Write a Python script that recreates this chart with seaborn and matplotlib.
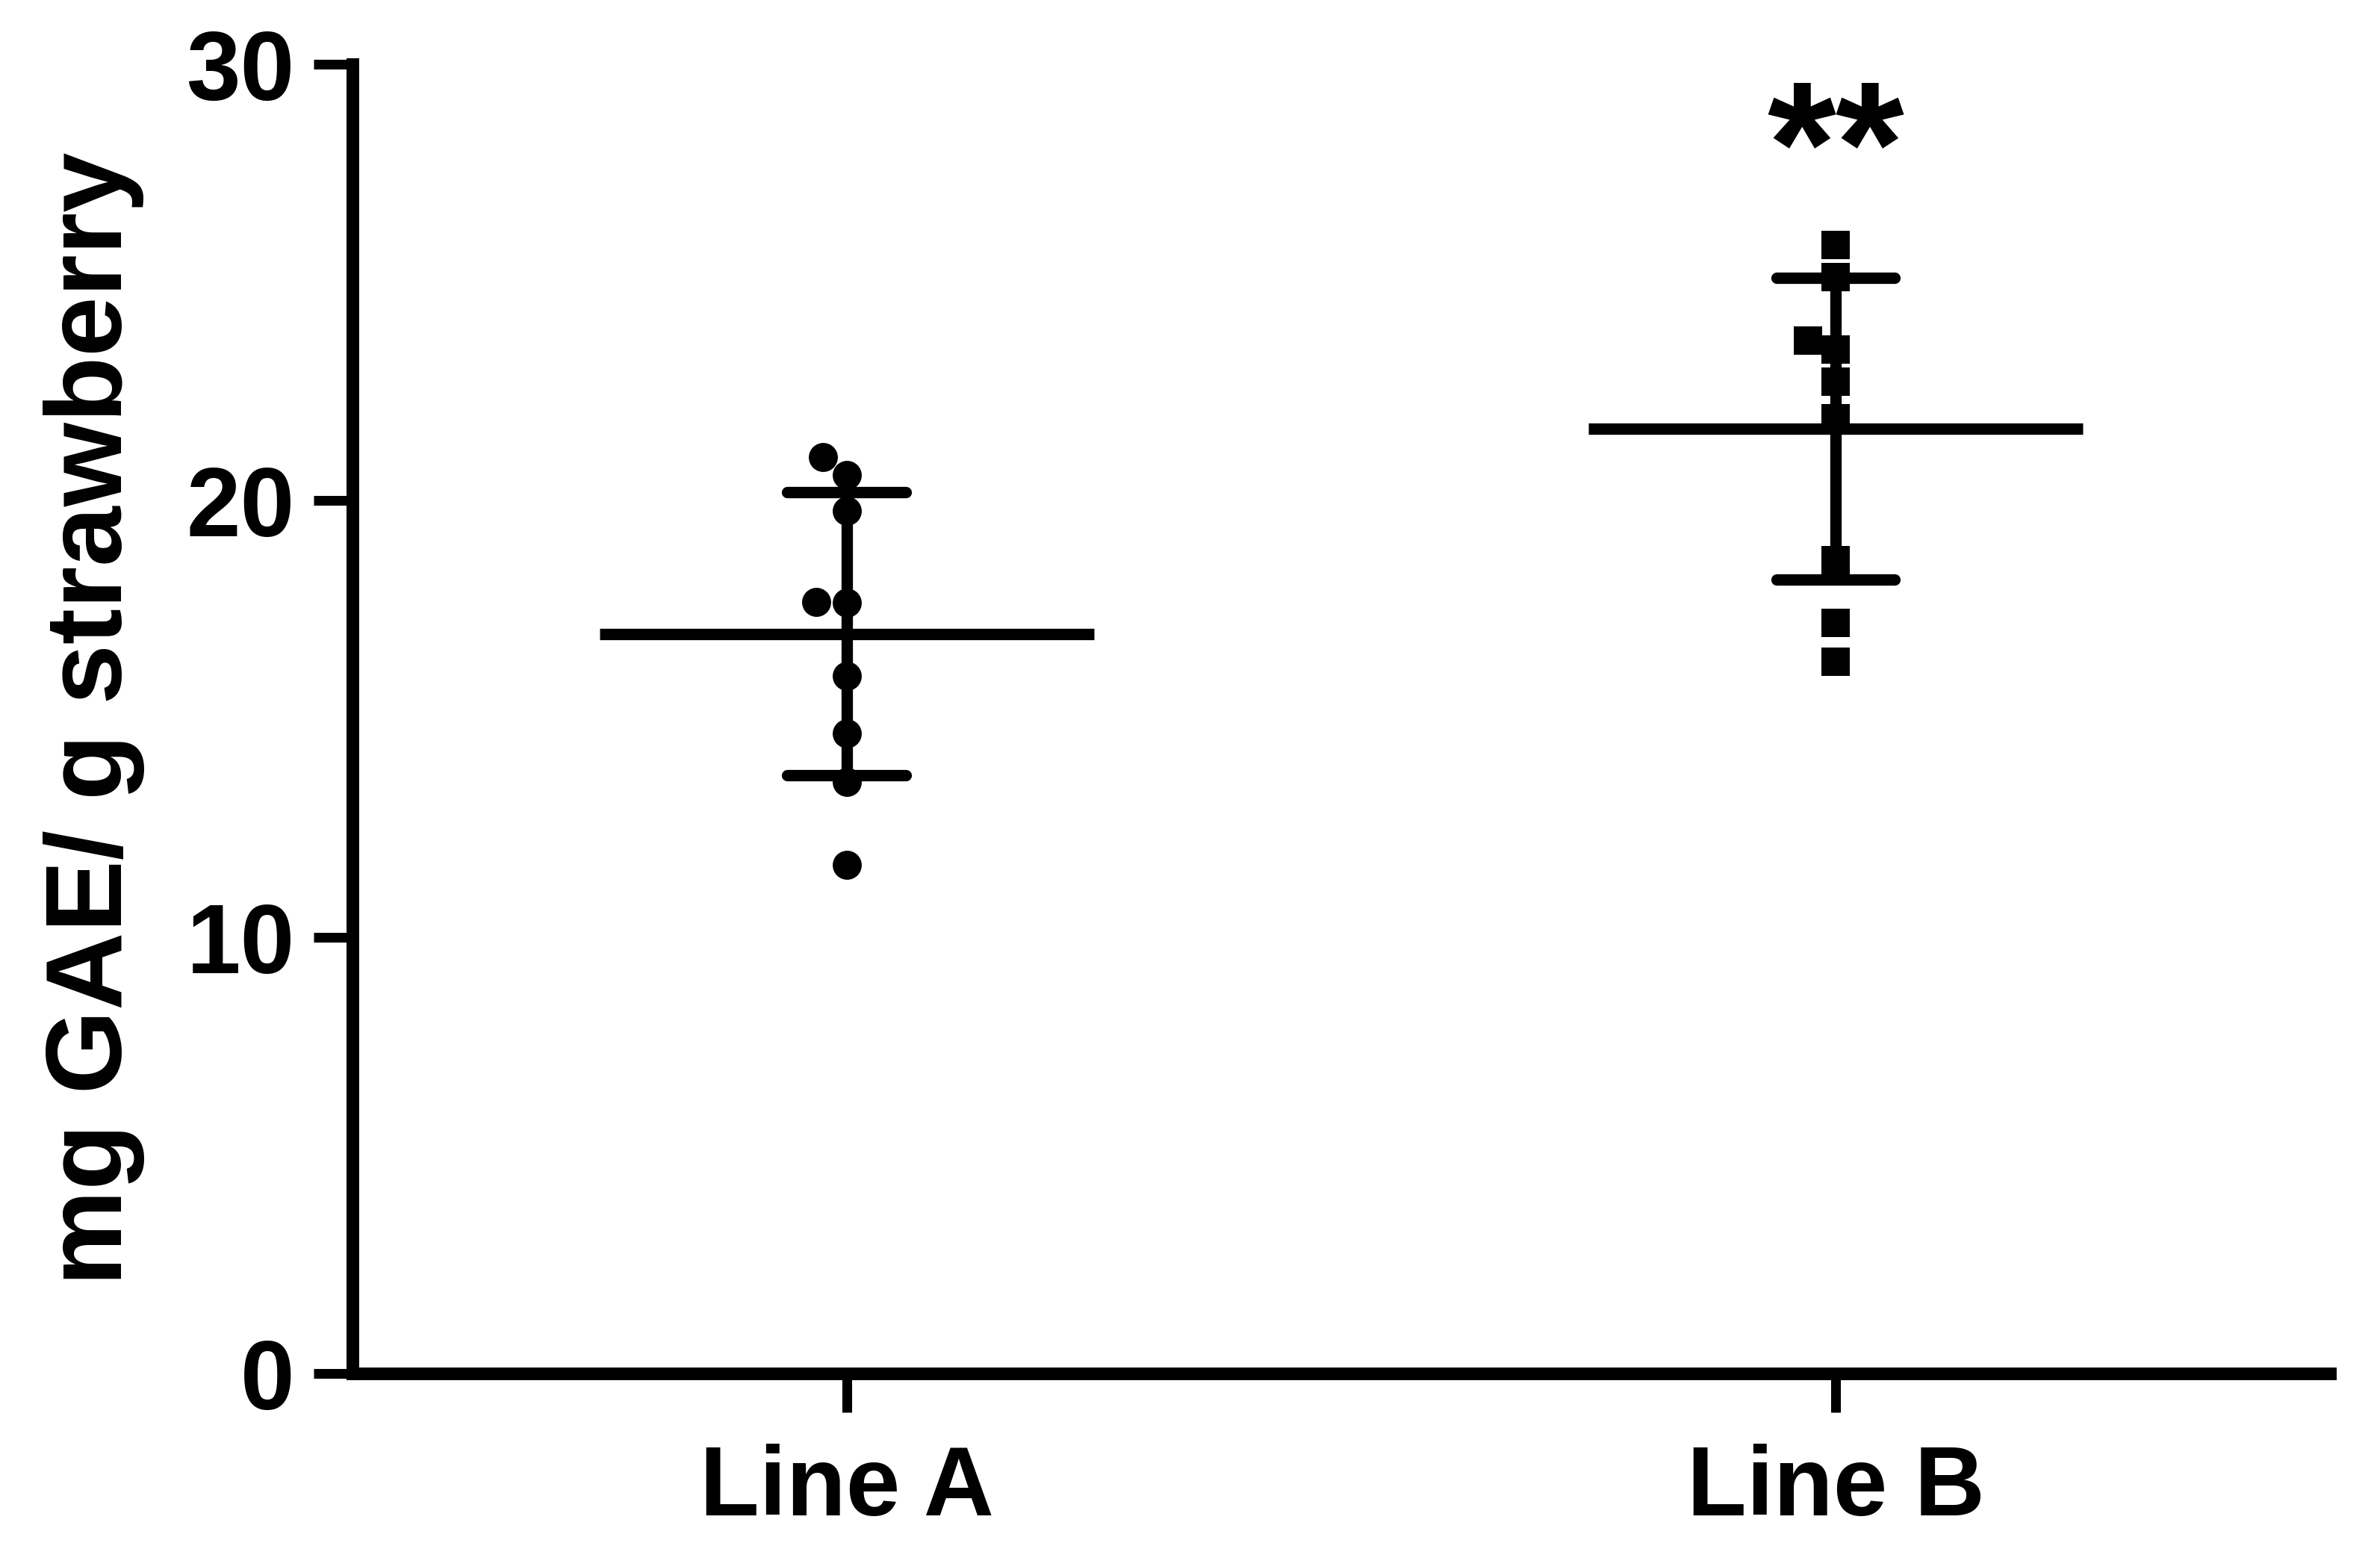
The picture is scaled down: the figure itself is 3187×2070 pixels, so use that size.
import numpy as np
import pandas as pd
import seaborn as sns
import matplotlib.pyplot as plt

sns.set_style("ticks")
plt.rcParams["font.family"] = ["Liberation Sans", "DejaVu Sans"]
plt.rcParams["font.weight"] = "bold"
for key in ["text.color", "axes.labelcolor", "xtick.color", "ytick.color", "axes.edgecolor"]:
    plt.rcParams[key] = "black"

CATEGORIES = ["Line A", "Line B"]
line_a = [20.99, 20.58, 19.76, 17.66, 17.68, 15.98, 14.66, 13.56, 11.65]
line_b = [25.86, 25.11, 23.66, 23.46, 22.73, 21.89, 18.63, 17.20, 16.30]
Y_LABEL = "mg GAE/ g strawberry"
SIG_LABEL = "**"

df = pd.DataFrame({
    "line": ["Line A"] * len(line_a) + ["Line B"] * len(line_b),
    "value": line_a + line_b,
})

fig = plt.figure(figsize=(15.935, 10.35), dpi=200)
ax = fig.add_axes([0.148, 0.1116, 0.831, 0.847])

# points: circles for A, squares for B
sns.swarmplot(data=df[df["line"] == "Line A"], x="line", y="value", order=CATEGORIES,
              color="black", marker="o", size=14, linewidth=0, ax=ax)
sns.swarmplot(data=df[df["line"] == "Line B"], x="line", y="value", order=CATEGORIES,
              color="black", marker="s", size=13.5, linewidth=0, ax=ax)

# mean +/- SD
sns.pointplot(data=df, x="line", y="value", order=CATEGORIES, errorbar="sd",
              capsize=0.12, color="black", linestyle="none", markersize=0,
              err_kws={"linewidth": 5.5}, ax=ax)
means = df.groupby("line")["value"].mean().reindex(CATEGORIES)
pos = np.arange(len(CATEGORIES))
ax.hlines(means.values, pos - 0.25, pos + 0.25, color="black", linewidth=5.5)

ax.text(1, 27.85, SIG_LABEL, ha="center", va="center", fontsize=85, fontweight="bold")

ax.set_xlim(-0.5, 1.5)
ax.set_ylim(0, 30)
ax.set_yticks([0, 10, 20, 30])
ax.set_xlabel("")
ax.set_ylabel(Y_LABEL, fontsize=52, fontweight="bold", labelpad=20)
ax.tick_params(axis="both", direction="out", length=18.7, width=4.7, color="black",
               labelsize=47, pad=9)
ax.tick_params(axis="x", pad=15)
for lab in ax.get_xticklabels() + ax.get_yticklabels():
    lab.set_fontweight("bold")

sns.despine(ax=ax)
for side in ["left", "bottom"]:
    ax.spines[side].set_linewidth(6.1)
    ax.spines[side].set_color("black")

fig.savefig("out.png", dpi=200, facecolor="white")
